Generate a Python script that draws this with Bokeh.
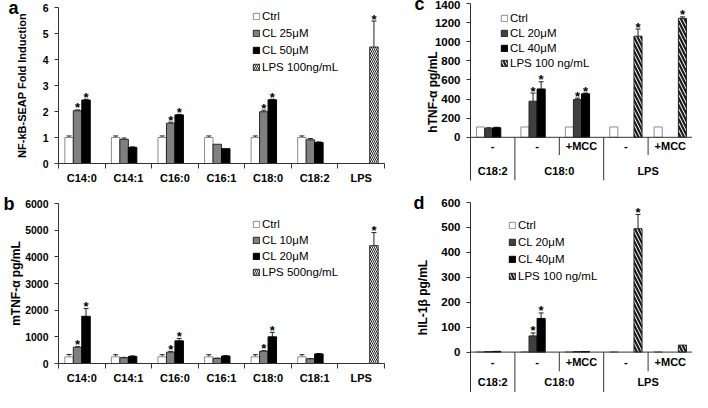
import numpy as np
from bokeh.plotting import figure
from bokeh.models import (Range1d, FixedTicker, ColumnDataSource, Whisker, TeeHead,
                          Legend, LegendItem, Span, LinearAxis)
from bokeh.layouts import row, column
from bokeh.embed import file_html
from bokeh.resources import INLINE
from bokeh.core.properties import value

nan = float("nan")
FONT = "Liberation Sans"

# ---------------- panel a : NF-kB-SEAP fold induction ----------------
cats_a = ["C14:0", "C14:1", "C16:0", "C16:1", "C18:0", "C18:2", "LPS"]
ctrl_a = [1.0, 1.0, 1.0, 1.0, 1.0, 1.0, nan]
ctrl_a_err = [0.06, 0.06, 0.06, 0.06, 0.06, 0.06, nan]
cl25_a = [2.03, 0.93, 1.55, 0.74, 1.99, 0.91, nan]
cl25_a_err = [0.03, 0.05, 0.04, nan, 0.06, 0.05, nan]
cl50_a = [2.44, 0.62, 1.87, 0.57, 2.45, 0.81, nan]
cl50_a_err = [0.03, 0.02, 0.02, nan, 0.02, 0.02, nan]
lps_a = [nan, nan, nan, nan, nan, nan, 4.48]
lps_a_err = [nan, nan, nan, nan, nan, nan, 1.0]
star_cl25_a = [1, 0, 1, 0, 1, 0, 0]
star_cl50_a = [1, 0, 1, 0, 1, 0, 0]
star_lps_a = [0, 0, 0, 0, 0, 0, 1]
legend_a = ["Ctrl", "CL 25μM", "CL 50μM", "LPS 100ng/mL"]
yticks_a = [0, 1, 2, 3, 4, 5, 6]

# ---------------- panel b : mTNF-alpha ----------------
cats_b = ["C14:0", "C14:1", "C16:0", "C16:1", "C18:0", "C18:1", "LPS"]
ctrl_b = [250, 250, 250, 250, 250, 250, nan]
ctrl_b_err = [90, 80, 80, 80, 80, 80, nan]
cl10_b = [610, 215, 425, 190, 460, 175, nan]
cl10_b_err = [20, 15, 30, 10, 20, 10, nan]
cl20_b = [1770, 265, 850, 280, 1000, 360, nan]
cl20_b_err = [290, 20, 90, 15, 170, 15, nan]
lps_b = [nan, nan, nan, nan, nan, nan, 4420]
lps_b_err = [nan, nan, nan, nan, nan, nan, 490]
star_cl10_b = [1, 0, 1, 0, 1, 0, 0]
star_cl20_b = [1, 0, 1, 0, 1, 0, 0]
star_lps_b = [0, 0, 0, 0, 0, 0, 1]
legend_b = ["Ctrl", "CL 10μM", "CL 20μM", "LPS 500ng/mL"]
yticks_b = [0, 1000, 2000, 3000, 4000, 5000, 6000]

# ---------------- panel c : hTNF-alpha ----------------
groups_c = ["C18:2", "C18:0", "C18:0", "LPS", "LPS"]
subs_c = ["-", "-", "+MCC", "-", "+MCC"]
ctrl_c = [108, 108, 108, 108, 108]
ctrl_c_err = [nan, nan, nan, nan, nan]
cl20_c = [95, 378, 395, nan, nan]
cl20_c_err = [5, 85, 15, nan, nan]
cl40_c = [100, 506, 455, nan, nan]
cl40_c_err = [5, 75, 8, nan, nan]
lps_c = [nan, nan, nan, 1058, 1245]
lps_c_err = [nan, nan, nan, 75, 15]
star_cl20_c = [0, 1, 1, 0, 0]
star_cl40_c = [0, 1, 1, 0, 0]
star_lps_c = [0, 0, 0, 1, 1]
legend_c = ["Ctrl", "CL 20μM", "CL 40μM", "LPS 100 ng/mL"]
yticks_c = [0, 200, 400, 600, 800, 1000, 1200, 1400]

# ---------------- panel d : hIL-1beta ----------------
groups_d = ["C18:2", "C18:0", "C18:0", "LPS", "LPS"]
subs_d = ["-", "-", "+MCC", "-", "+MCC"]
ctrl_d = [1, 1, 1, 1, 1]
ctrl_d_err = [nan, nan, nan, nan, nan]
cl20_d = [2, 65, 2, nan, nan]
cl20_d_err = [nan, 12, nan, nan, nan]
cl40_d = [3, 135, 2, nan, nan]
cl40_d_err = [nan, 22, nan, nan, nan]
lps_d = [nan, nan, nan, 495, 28]
lps_d_err = [nan, nan, nan, 57, nan]
star_cl20_d = [0, 1, 0, 0, 0]
star_cl40_d = [0, 1, 0, 0, 0]
star_lps_d = [0, 0, 0, 1, 0]
legend_d = ["Ctrl", "CL 20μM", "CL 40μM", "LPS 100 ng/mL"]
yticks_d = [0, 100, 200, 300, 400, 500, 600]

BW = 0.182
OFFS = [-1.5 * BW, -0.5 * BW, 0.5 * BW, 1.5 * BW]
AX = "#333333"


def series_styles(gray, hscale, hweight):
    return [
        dict(fill_color="white", line_color="#8c8c8c", line_width=1),
        dict(fill_color=gray, line_color="#262626", line_width=1),
        dict(fill_color="black", line_color="black", line_width=1),
        dict(fill_color="white", line_color="#262626", line_width=1,
             hatch_pattern="\\", hatch_color="#1a1a1a",
             hatch_scale=hscale, hatch_weight=hweight),
    ]


def base_fig(w, h, bl, br, bt, bb, n, y0, y1, xaxis=True):
    p = figure(width=w, height=h, x_range=Range1d(0, n), y_range=Range1d(y0, y1),
               output_backend="svg", toolbar_location=None, title=None,
               x_axis_location="below" if xaxis else None,
               min_border_left=bl, min_border_right=br,
               min_border_top=bt, min_border_bottom=bb)
    p.outline_line_color = None
    p.xgrid.visible = False
    p.ygrid.visible = False
    return p


def style_yaxis(p, ticks, label, tick_size, label_standoff, label_size="12px"):
    ax = p.yaxis[0]
    ax.ticker = FixedTicker(ticks=ticks)
    ax.axis_label = label
    ax.axis_label_text_font = FONT
    ax.axis_label_text_font_size = label_size
    ax.axis_label_text_font_style = "bold"
    ax.axis_label_text_color = "black"
    ax.axis_label_standoff = label_standoff
    ax.major_label_text_font = FONT
    ax.major_label_text_font_size = tick_size
    ax.major_label_text_font_style = "bold"
    ax.major_label_text_color = "black"
    ax.major_label_standoff = 6
    ax.major_tick_in = 0
    ax.major_tick_out = 4
    ax.minor_tick_line_color = None
    ax.axis_line_color = AX
    ax.major_tick_line_color = AX


def draw_series(p, vals, errs, stars, offset, style):
    vals = np.array(vals, dtype=float)
    errs = np.array(errs, dtype=float)
    n = len(vals)
    xs = np.arange(n) + 0.5 + offset
    src = ColumnDataSource(dict(x=xs, top=vals))
    r = p.vbar(x="x", top="top", bottom=0, width=BW, source=src, **style)
    m = np.isfinite(vals) & np.isfinite(errs)
    if m.any():
        wsrc = ColumnDataSource(dict(x=xs[m], lo=vals[m], hi=vals[m] + errs[m]))
        p.add_layout(Whisker(source=wsrc, base="x", lower="lo", upper="hi",
                             dimension="height", line_color="#222222", line_width=1,
                             upper_head=TeeHead(size=5, line_color="#222222", line_width=1),
                             lower_head=None))
    s = np.array(stars, dtype=bool)
    if s.any():
        tops = vals + np.where(np.isfinite(errs), errs, 0)
        ssrc = ColumnDataSource(dict(x=xs[s], y=tops[s]))
        p.text(x="x", y="y", text=value("*"), source=ssrc, text_align="center",
               text_baseline="alphabetic", y_offset=-2,
               text_font=value(FONT), text_font_size=value("13px"),
               text_font_style="bold", text_color="black")
    return r


def add_legend(p, renderers, labels, loc, spacing):
    items = [LegendItem(label=lab, renderers=[r]) for lab, r in zip(labels, renderers)]
    lg = Legend(items=items, location=loc, orientation="vertical",
                glyph_width=8, glyph_height=8, label_height=10, label_standoff=2,
                spacing=spacing, padding=0, margin=0,
                border_line_color=None, background_fill_alpha=0,
                label_text_font=FONT, label_text_font_size="11.5px",
                label_text_color="black")
    p.add_layout(lg)


def add_letter(p, txt, standoff):
    # panel letter: label of a bare outer axis, written upright at its top end
    ax = LinearAxis(ticker=FixedTicker(ticks=[]), axis_label=txt,
                    axis_label_orientation="horizontal", axis_label_align="end",
                    axis_label_standoff=standoff,
                    axis_label_text_font=FONT, axis_label_text_font_size="18px",
                    axis_label_text_font_style="bold", axis_label_text_color="black",
                    axis_label_text_baseline="middle",
                    axis_line_color=None, major_tick_line_color=None,
                    minor_tick_line_color=None, major_label_text_font_size="0px",
                    major_tick_in=0, major_tick_out=0, minor_tick_in=0, minor_tick_out=0,
                    major_label_standoff=0)
    p.add_layout(ax, "left")


def category_xaxis(p, cats):
    n = len(cats)
    centers = [i + 0.5 for i in range(n)]
    ax = p.xaxis[0]
    ax.ticker = FixedTicker(ticks=centers, minor_ticks=list(range(n + 1)))
    ax.major_label_overrides = {c: lab for c, lab in zip(centers, cats)}
    ax.major_tick_line_color = None
    ax.major_tick_in = 0
    ax.major_tick_out = 0
    ax.minor_tick_in = 0
    ax.minor_tick_out = 5
    ax.minor_tick_line_color = AX
    ax.axis_line_color = AX
    ax.major_label_standoff = 3
    ax.major_label_text_font = FONT
    ax.major_label_text_font_size = "11px"
    ax.major_label_text_font_style = "bold"
    ax.major_label_text_color = "black"


def table_xaxis(p, groups, subs, y_row1, y_row1_bottom, y_row2, y_bottom):
    n = len(subs)
    p.add_layout(Span(location=0, dimension="width", line_color=AX, line_width=1))
    full = [i for i in range(1, n) if groups[i] != groups[i - 1]]
    short = [i for i in range(1, n) if groups[i] == groups[i - 1]]
    p.segment(x0=full, y0=[0] * len(full), x1=full, y1=[y_bottom] * len(full),
              line_color=AX, line_width=1)
    p.segment(x0=short, y0=[0] * len(short), x1=short, y1=[y_row1_bottom] * len(short),
              line_color=AX, line_width=1)
    centers = [i + 0.5 for i in range(n)]
    p.text(x=centers, y=[y_row1] * n, text=subs, text_align="center",
           text_baseline="middle", text_font=value(FONT), text_font_size=value("11px"),
           text_font_style="bold", text_color="black")
    gnames, gx = [], []
    for g in dict.fromkeys(groups):
        idx = [i for i in range(n) if groups[i] == g]
        gnames.append(g)
        gx.append((min(idx) + max(idx) + 1) / 2)
    p.text(x=gx, y=[y_row2] * len(gx), text=gnames, text_align="center",
           text_baseline="middle", text_font=value(FONT), text_font_size=value("11px"),
           text_font_style="bold", text_color="black")


# ---------------- build panel a ----------------
pa = base_fig(410, 186, 49, 17, 7, 21, len(cats_a), 0, 6)
style_yaxis(pa, yticks_a, "NF-kB-SEAP Fold Induction", "10.5px", 12, "11px")
category_xaxis(pa, cats_a)
st = series_styles("#808080", 4, 1)
ra = [draw_series(pa, v, e, s, o, sty) for v, e, s, o, sty in zip(
    [ctrl_a, cl25_a, cl50_a, lps_a], [ctrl_a_err, cl25_a_err, cl50_a_err, lps_a_err],
    [[0] * 7, star_cl25_a, star_cl50_a, star_lps_a], OFFS, st)]
add_legend(pa, ra, legend_a, (194, 90), 5)
add_letter(pa, "a", -6)

# ---------------- build panel b ----------------
pb = base_fig(410, 206, 49, 26, 17, 29, len(cats_b), 0, 6000)
style_yaxis(pb, yticks_b, "mTNF-α pg/mL", "10.5px", -1)
category_xaxis(pb, cats_b)
rb = [draw_series(pb, v, e, s, o, sty) for v, e, s, o, sty in zip(
    [ctrl_b, cl10_b, cl20_b, lps_b], [ctrl_b_err, cl10_b_err, cl20_b_err, lps_b_err],
    [[0] * 7, star_cl10_b, star_cl20_b, star_lps_b], OFFS, st)]
add_legend(pb, rb, legend_b, (194, 85), 4)
add_letter(pb, "b", -8)

# ---------------- build panel c ----------------
pc = base_fig(282, 190, 60, 0, 3, 10, len(subs_c), -452, 1400, xaxis=False)
style_yaxis(pc, yticks_c, "hTNF-α pg/mL", "11.5px", -8)
table_xaxis(pc, groups_c, subs_c, -88, -186, -351, -452)
st2 = series_styles("#404040", 7, 2.2)
rc = [draw_series(pc, v, e, s, o, sty) for v, e, s, o, sty in zip(
    [ctrl_c, cl20_c, cl40_c, lps_c], [ctrl_c_err, cl20_c_err, cl40_c_err, lps_c_err],
    [[0] * 5, star_cl20_c, star_cl40_c, star_lps_c], OFFS, st2)]
add_legend(pc, rc, legend_c, (30, 111), 3)
add_letter(pc, "c", -2)

# ---------------- build panel d ----------------
pd = base_fig(282, 202, 60, 0, 12, 0, len(subs_d), -162, 600, xaxis=False)
style_yaxis(pd, yticks_d, "hIL-1β pg/mL", "11.5px", 8)
table_xaxis(pd, groups_d, subs_d, -39, -77, -120, -162)
rd = [draw_series(pd, v, e, s, o, sty) for v, e, s, o, sty in zip(
    [ctrl_d, cl20_d, cl40_d, lps_d], [ctrl_d_err, cl20_d_err, cl40_d_err, lps_d_err],
    [[0] * 5, star_cl20_d, star_cl40_d, star_lps_d], OFFS, st2)]
add_legend(pd, rd, legend_d, (38, 110), 5)
add_letter(pd, "d", -11)

layout = row(column(pa, pb), column(pc, pd))
open("out.html", "w").write(file_html(layout, INLINE))
